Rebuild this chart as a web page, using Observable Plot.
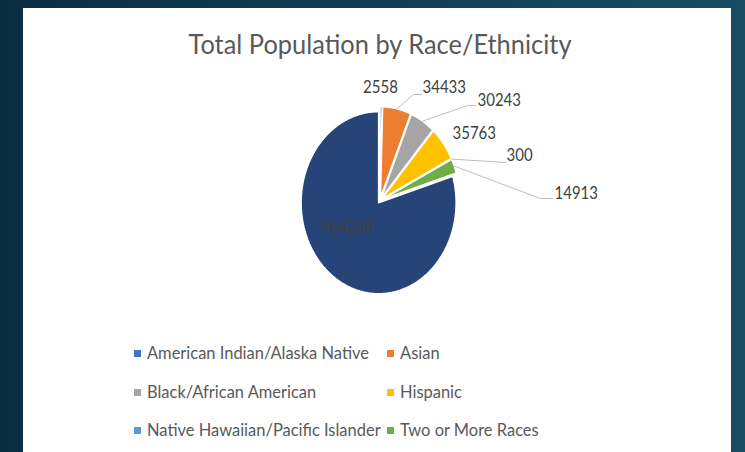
<!DOCTYPE html>
<html><head><meta charset="utf-8">
<script src="https://cdn.jsdelivr.net/npm/d3@7"></script>
<script src="https://cdn.jsdelivr.net/npm/@observablehq/plot@0.6"></script>
<style>
html,body{margin:0;padding:0;}
body{width:745px;height:452px;overflow:hidden;position:relative;
  background:linear-gradient(90deg,#0a2d3f 0%,#123e54 50%,#184c62 100%);
  font-family:Lato,"Liberation Sans",sans-serif;}
#panel{position:absolute;left:23px;top:8px;width:708px;height:444px;background:#fff;}
#title{position:absolute;left:379.5px;top:28px;font-size:27px;color:#595959;line-height:32px;white-space:nowrap;transform-origin:0 50%;}
#chart{position:absolute;left:0;top:0;}
.leg{position:absolute;font-size:17.5px;color:#595959;white-space:nowrap;line-height:20px;transform-origin:0 50%;}
.sw{position:absolute;width:7px;height:7px;}
</style></head>
<body>
<div id="panel"></div>
<span id="title">Total Population by Race/Ethnicity</span>
<div id="chart"></div>
<div id="legend"></div>
<script>
// ---- data ----
const categories = ["American Indian/Alaska Native","Asian","Black/African American","Hispanic","Native Hawaiian/Pacific Islander","Two or More Races","(unlabeled)"];
const values = [2558, 34433, 30243, 35763, 300, 14913, 464248];
const colors = ["#4472C4","#ED7D31","#A5A5A5","#FFC000","#5B9BD5","#70AD47","#264478"];
const legendCategories = categories.slice(0, 6);

// ---- layout (pixels) ----
const cx = 379.5, cy = 200, rx = 77.5, ry = 91, explode = 0.03;
const toX = px => (px - cx) / rx, toY = py => (cy - py) / ry;
const labelLayout = [
  {anchor:"middle", px:380, py:87, leader:[]},
  {anchor:"start", px:422, py:87, leader:[[413,94],[421,94]]},
  {anchor:"start", px:477, py:100, leader:[[467,105],[475,105]]},
  {anchor:"start", px:452, py:133, leader:[]},
  {anchor:"start", px:506, py:155, leader:[[505,162]]},
  {anchor:"start", px:554, py:193, leader:[[540,198],[552,198]]},
  {anchor:"middle", px:347, py:227, leader:[]}
];

// ---- geometry ----
const total = d3.sum(values);
const pieRows = [], leaderRows = [], labelRows = [];
let acc = 0;
values.forEach((v, i) => {
  const a0 = acc / total * 2 * Math.PI; acc += v;
  const a1 = acc / total * 2 * Math.PI;
  const mid = (a0 + a1) / 2;
  const ex = explode * Math.sin(mid), ey = explode * Math.cos(mid);
  const cat = categories[i];
  pieRows.push({cat, x: ex, y: ey});
  const n = Math.max(2, Math.ceil((a1 - a0) / (Math.PI / 180)));
  for (let k = 0; k <= n; k++) {
    const a = a0 + (a1 - a0) * k / n;
    pieRows.push({cat, x: ex + Math.sin(a), y: ey + Math.cos(a)});
  }
  pieRows.push({cat, x: ex, y: ey});
  const L = labelLayout[i];
  if (L.leader.length) {
    leaderRows.push({g: i, x: ex + Math.sin(mid), y: ey + Math.cos(mid)});
    L.leader.forEach(([px, py]) => leaderRows.push({g: i, x: toX(px), y: toY(py)}));
  }
  labelRows.push({text: String(v), x: toX(L.px), y: toY(L.py), anchor: L.anchor});
});

const font = 'Lato,"Liberation Sans",sans-serif';
const chart = Plot.plot({
  width: 745, height: 452,
  x: {domain: [-1, 1], range: [cx - rx, cx + rx], axis: null},
  y: {domain: [-1, 1], range: [cy + ry, cy - ry], axis: null},
  color: {domain: categories, range: colors},
  style: {background: "transparent", overflow: "visible", fontFamily: font},
  marks: [
    Plot.line(pieRows, {x: "x", y: "y", z: "cat", fill: "cat", stroke: "white", strokeWidth: 1.5, strokeLinejoin: "miter"}),
    Plot.line(leaderRows, {x: "x", y: "y", z: "g", stroke: "#BFBFBF", strokeWidth: 1}),
    Plot.text(labelRows.filter(d => d.anchor === "start"), {x: "x", y: "y", text: "text", textAnchor: "start", fontSize: 18, fill: "#404040"}),
    Plot.text(labelRows.filter(d => d.anchor === "middle"), {x: "x", y: "y", text: "text", textAnchor: "middle", fontSize: 18, fill: "#404040"})
  ]
});
document.getElementById("chart").appendChild(chart);
// condense data labels like the reference's narrow font
chart.querySelectorAll("text").forEach(t => {
  const s = t.textContent;
  if (/^\d+$/.test(s)) {
    t.setAttribute("textLength", (s.length * 8.7).toFixed(1));
    t.setAttribute("lengthAdjust", "spacingAndGlyphs");
  }
});

// ---- title fit ----
const title = document.getElementById("title");
const tw = title.getBoundingClientRect().width;
title.style.transform = `scaleX(${383 / tw}) translateX(-50%)`;

// ---- legend ----
const colX = [134, 387], rowY = [353, 392, 430];
const leg = document.getElementById("legend");
const texts = [];
legendCategories.forEach((c, i) => {
  const col = i % 2, row = Math.floor(i / 2);
  const sw = document.createElement("div");
  sw.className = "sw";
  sw.style.left = colX[col] + "px"; sw.style.top = (rowY[row] - 3) + "px";
  sw.style.background = colors[i];
  leg.appendChild(sw);
  const t = document.createElement("div");
  t.className = "leg"; t.textContent = c;
  t.style.left = (colX[col] + 13) + "px"; t.style.top = (rowY[row] - 10) + "px";
  leg.appendChild(t);
  texts.push(t);
});
const lw = texts[0].getBoundingClientRect().width;
const ls = 222 / lw;
texts.forEach(t => t.style.transform = `scaleX(${ls})`);
</script>
</body></html>
